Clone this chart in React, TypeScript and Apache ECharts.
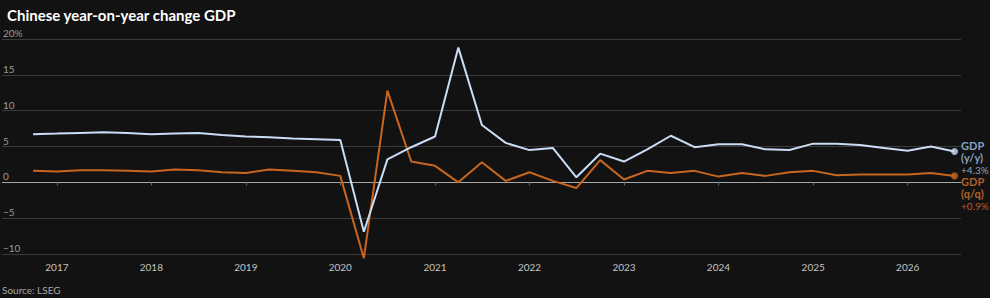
import React, { useEffect, useRef } from "react";
import * as echarts from "echarts";

// Quarterly observations (plotted at the start of the following quarter)
const periods = [
  "2016-10-01",
  "2017-01-01", "2017-04-01", "2017-07-01", "2017-10-01",
  "2018-01-01", "2018-04-01", "2018-07-01", "2018-10-01",
  "2019-01-01", "2019-04-01", "2019-07-01", "2019-10-01",
  "2020-01-01", "2020-04-01", "2020-07-01", "2020-10-01",
  "2021-01-01", "2021-04-01", "2021-07-01", "2021-10-01",
  "2022-01-01", "2022-04-01", "2022-07-01", "2022-10-01",
  "2023-01-01", "2023-04-01", "2023-07-01", "2023-10-01",
  "2024-01-01", "2024-04-01", "2024-07-01", "2024-10-01",
  "2025-01-01", "2025-04-01", "2025-07-01", "2025-10-01",
  "2026-01-01", "2026-04-01", "2026-07-01",
];

// GDP, year-on-year change (%)
const gdpYoY = [
  6.7,
  6.8, 6.9, 7.0, 6.9,
  6.7, 6.8, 6.9, 6.6,
  6.4, 6.3, 6.1, 6.0,
  5.9, -6.9, 3.2, 4.9,
  6.4, 18.8, 8.0, 5.5,
  4.5, 4.8, 0.7, 4.0,
  2.9, 4.6, 6.5, 4.9,
  5.3, 5.3, 4.6, 4.5,
  5.4, 5.4, 5.2, 4.8,
  4.4, 5.0, 4.3,
];

// GDP, quarter-on-quarter change (%)
const gdpQoQ = [
  1.6,
  1.5, 1.7, 1.7, 1.6,
  1.5, 1.8, 1.7, 1.4,
  1.3, 1.8, 1.6, 1.4,
  0.9, -10.6, 12.8, 2.9,
  2.3, 0.0, 2.8, 0.2,
  1.4, 0.2, -0.8, 3.1,
  0.4, 1.6, 1.3, 1.6,
  0.8, 1.3, 0.9, 1.4,
  1.6, 1.0, 1.1, 1.1,
  1.1, 1.3, 0.9,
];

const yearTicks = [2017, 2018, 2019, 2020, 2021, 2022, 2023, 2024, 2025, 2026];

const axisStart = "2016-06-03";
const axisEnd = "2026-07-26";

const BLUE = "#c9ddf6";
const BLUE_TEXT = "#a9c9f1";
const ORANGE = "#c8661f";
const ORANGE_TEXT = "#dd7630";
const FONT = "Lato, 'Noto Sans', sans-serif";

const toTime = (s: string) => {
  const [y, m, d] = s.split("-").map(Number);
  return new Date(y, m - 1, d).getTime();
};

const fmtSigned = (v: number) => (v >= 0 ? "+" : "−") + Math.abs(v).toFixed(1) + "%";

export default function App() {
  const ref = useRef<HTMLDivElement>(null);

  useEffect(() => {
    if (!ref.current) return;
    const chart = echarts.init(ref.current, undefined, { renderer: "svg" });

    const yoyData = periods.map((p, i) => [toTime(p), gdpYoY[i]]);
    const qoqData = periods.map((p, i) => [toTime(p), gdpQoQ[i]]);
    const lastIdx = periods.length - 1;
    const tickTimes = yearTicks.map((y) => new Date(y, 0, 1).getTime());

    const endLabel = (name: string, value: number, color: string, dy: number) => ({
      show: true,
      position: "right" as const,
      distance: 3,
      offset: [0, dy],
      formatter: `{h|GDP}\n{h|(${name})}\n{v|${fmtSigned(value)}}`,
      rich: {
        h: { color, fontFamily: FONT, fontSize: 11, fontWeight: "bold", lineHeight: 12 },
        v: { color, fontFamily: FONT, fontSize: 10, lineHeight: 12 },
      },
    });

    chart.setOption({
      animation: false,
      backgroundColor: "#121212",
      title: {
        text: "Chinese year-on-year change GDP",
        left: 2,
        top: 2,
        textStyle: { color: "#ffffff", fontFamily: FONT, fontSize: 15, fontWeight: "bold" },
      },
      graphic: [
        {
          type: "text",
          left: 2,
          top: 285,
          style: { text: "Source: LSEG", fill: "#a8a8a8", font: `10px ${FONT}` },
        },
      ],
      grid: { left: 1, right: 29, top: 39, bottom: 44, containLabel: false },
      xAxis: {
        type: "value",
        min: toTime(axisStart),
        max: toTime(axisEnd),
        axisLine: { show: false },
        axisTick: {
          show: true,
          length: 3,
          lineStyle: { color: "#6a6a6a" },
          customValues: tickTimes,
        },
        axisLabel: {
          color: "#c4c4c4",
          fontFamily: FONT,
          fontSize: 10,
          margin: 8,
          customValues: tickTimes,
          formatter: (v: number) => String(new Date(v).getFullYear()),
        },
        splitLine: { show: false },
      },
      yAxis: {
        type: "value",
        min: -10,
        max: 20,
        interval: 5,
        axisLine: { show: false },
        axisTick: { show: false },
        axisLabel: {
          inside: true,
          margin: 1,
          verticalAlign: "bottom",
          padding: [0, 0, 1, 0],
          color: "#9a9a9a",
          fontFamily: FONT,
          fontSize: 10,
          formatter: (v: number) => (v === 20 ? "20%" : v < 0 ? "−" + Math.abs(v) : String(v)),
        },
        splitLine: {
          show: true,
          lineStyle: {
            width: 1,
            color: ["#3a3a3a", "#3a3a3a", "#a6a6a6", "#3a3a3a", "#3a3a3a", "#3a3a3a", "#3a3a3a"],
          },
        },
      },
      series: [
        {
          name: "GDP (q/q)",
          type: "line",
          data: qoqData,
          symbol: "none",
          clip: false,
          lineStyle: { color: ORANGE, width: 2 },
          z: 2,
        },
        {
          name: "GDP (y/y)",
          type: "line",
          data: yoyData,
          symbol: "none",
          clip: false,
          lineStyle: { color: BLUE, width: 2 },
          z: 3,
        },
        {
          type: "scatter",
          data: [qoqData[lastIdx]],
          symbol: "circle",
          symbolSize: 7,
          itemStyle: { color: ORANGE },
          label: endLabel("q/q", gdpQoQ[lastIdx], ORANGE_TEXT, 18),
          z: 4,
        },
        {
          type: "scatter",
          data: [yoyData[lastIdx]],
          symbol: "circle",
          symbolSize: 7,
          itemStyle: { color: BLUE },
          label: endLabel("y/y", gdpYoY[lastIdx], BLUE_TEXT, 6),
          z: 4,
        },
      ],
    });

    return () => chart.dispose();
  }, []);

  return (
    <div
      ref={ref}
      style={{ position: "fixed", left: 0, top: 0, width: 990, height: 298, background: "#121212" }}
    />
  );
}
